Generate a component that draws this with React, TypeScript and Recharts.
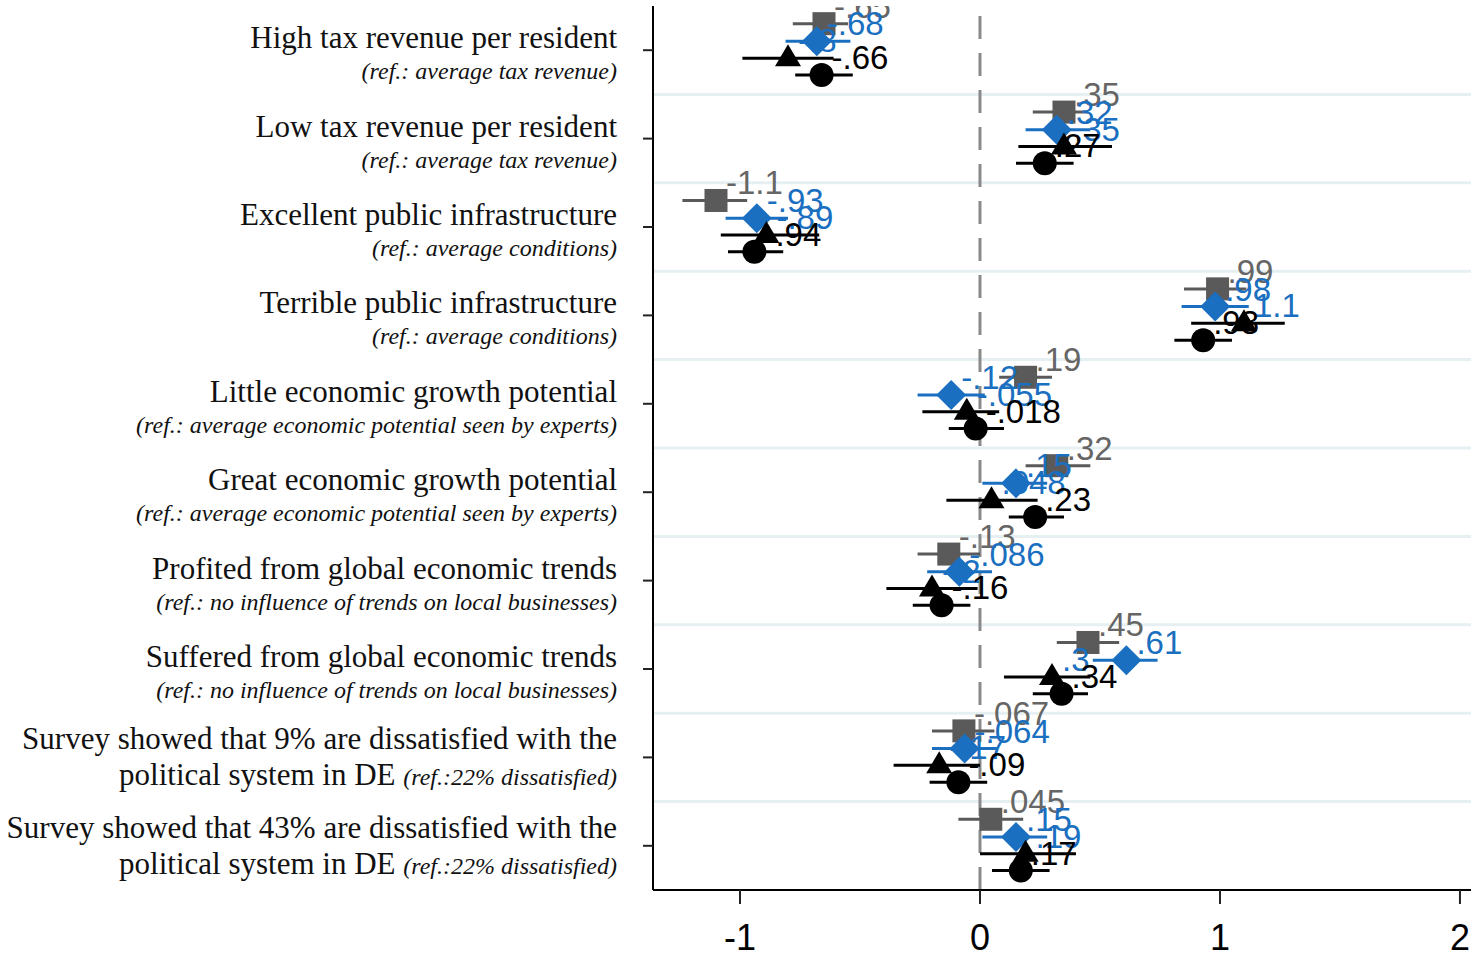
import React from "react";
import { ScatterChart, Scatter, XAxis, YAxis, ReferenceLine, ErrorBar } from "recharts";

// row labels, top to bottom
const rowTitles: string[][] = [
  ["High tax revenue per resident"],
  ["Low tax revenue per resident"],
  ["Excellent public infrastructure"],
  ["Terrible public infrastructure"],
  ["Little economic growth potential"],
  ["Great economic growth potential"],
  ["Profited from global economic trends"],
  ["Suffered from global economic trends"],
  ["Survey showed that 9% are dissatisfied with the", "political system in DE"],
  ["Survey showed that 43% are dissatisfied with the", "political system in DE"],
];
const rowRefs: string[] = [
  "(ref.: average tax revenue)",
  "(ref.: average tax revenue)",
  "(ref.: average conditions)",
  "(ref.: average conditions)",
  "(ref.: average economic potential seen by experts)",
  "(ref.: average economic potential seen by experts)",
  "(ref.: no influence of trends on local businesses)",
  "(ref.: no influence of trends on local businesses)",
  "(ref.:22% dissatisfied)",
  "(ref.:22% dissatisfied)",
];

const xTicks = [-1, 0, 1, 2];

// estimates with 95% intervals, one set per model
const squareCoef = [-0.65, 0.35, -1.1, 0.99, 0.19, 0.32, -0.13, 0.45, -0.067, 0.045];
const squareLo = [-0.78, 0.22, -1.24, 0.85, 0.08, 0.19, -0.26, 0.32, -0.2, -0.09];
const squareHi = [-0.55, 0.45, -0.97, 1.11, 0.3, 0.46, 0.0, 0.58, 0.06, 0.18];

const diamondCoef = [-0.68, 0.32, -0.93, 0.98, -0.12, 0.15, -0.086, 0.61, -0.064, 0.15];
const diamondLo = [-0.81, 0.19, -1.06, 0.84, -0.26, 0.01, -0.22, 0.47, -0.2, 0.01];
const diamondHi = [-0.54, 0.46, -0.8, 1.12, 0.02, 0.28, 0.05, 0.74, 0.07, 0.28];

const triangleCoef = [-0.8, 0.35, -0.89, 1.1, -0.055, 0.048, -0.2, 0.3, -0.17, 0.19];
const triangleLo = [-0.99, 0.16, -1.08, 0.88, -0.24, -0.14, -0.39, 0.1, -0.36, 0.0];
const triangleHi = [-0.61, 0.55, -0.67, 1.27, 0.08, 0.24, -0.01, 0.46, 0.0, 0.4];

const circleCoef = [-0.66, 0.27, -0.94, 0.93, -0.018, 0.23, -0.16, 0.34, -0.09, 0.17];
const circleLo = [-0.77, 0.15, -1.05, 0.81, -0.13, 0.12, -0.28, 0.22, -0.21, 0.05];
const circleHi = [-0.53, 0.39, -0.82, 1.05, 0.1, 0.35, -0.04, 0.45, 0.03, 0.29];

const GREY = "#5a5a5a";
const BLUE = "#1a6fc0";
const BLACK = "#000";
const SANS = "'Liberation Sans', Arial, sans-serif";
const SERIF = "'Liberation Serif', 'Times New Roman', serif";

// Stata-like %9.2g: two significant digits, no leading zero
const fmt = (v: number) => String(Number(v.toPrecision(2))).replace(/^(-?)0\./, "$1.");

const buildPoints = (coef: number[], lo: number[], hi: number[], dodge: number) =>
  coef.map((x, i) => ({ x, y: i + dodge, err: [x - lo[i], hi[i] - x] }));

const squarePts = buildPoints(squareCoef, squareLo, squareHi, -0.3);
const diamondPts = buildPoints(diamondCoef, diamondLo, diamondHi, -0.1);
const trianglePts = buildPoints(triangleCoef, triangleLo, triangleHi, 0.09);
const circlePts = buildPoints(circleCoef, circleLo, circleHi, 0.28);

const rowEdges = rowTitles.slice(1).map((_, i) => i + 0.5);

type Kind = "square" | "diamond" | "triangle" | "circle";

const makeShape = (kind: Kind, fill: string, labelColor: string) => (props: any) => {
  const { cx, cy, payload } = props;
  let mark: React.ReactNode;
  if (kind === "square") mark = <rect x={cx - 11.5} y={cy - 11.5} width={23} height={23} fill={fill} />;
  else if (kind === "diamond")
    mark = <polygon points={`${cx},${cy - 15} ${cx + 15},${cy} ${cx},${cy + 15} ${cx - 15},${cy}`} fill={fill} />;
  else if (kind === "triangle")
    mark = <polygon points={`${cx},${cy - 14} ${cx + 13},${cy + 8} ${cx - 13},${cy + 8}`} fill={fill} />;
  else mark = <circle cx={cx} cy={cy} r={12} fill={fill} />;
  return (
    <g>
      {mark}
      <text x={cx + 10} y={cy - 6} fill={labelColor} fontSize={33} fontFamily={SANS}>
        {fmt(payload.x)}
      </text>
    </g>
  );
};

const RowTick = (props: any) => {
  const { x, y, payload } = props;
  const title = rowTitles[payload.value];
  const ref = rowRefs[payload.value];
  if (!title) return null;
  if (title.length === 1) {
    return (
      <g fill="#111" fontFamily={SERIF}>
        <text x={x} y={y - 2} textAnchor="end" fontSize={31}>
          {title[0]}
        </text>
        <text x={x} y={y + 29} textAnchor="end" fontSize={24} fontStyle="italic">
          {ref}
        </text>
      </g>
    );
  }
  return (
    <g fill="#111" fontFamily={SERIF}>
      <text x={x} y={y - 8} textAnchor="end" fontSize={31}>
        {title[0]}
      </text>
      <text x={x} y={y + 28} textAnchor="end" fontSize={31}>
        {title[1]} <tspan fontSize={24} fontStyle="italic">{ref}</tspan>
      </text>
    </g>
  );
};

export default function App() {
  return (
    <div style={{ position: "absolute", left: 0, top: 0, background: "#fff" }}>
      <ScatterChart width={1471} height={961} margin={{ top: 6, right: 0, bottom: 0, left: 0 }}>
        <XAxis
          type="number"
          dataKey="x"
          domain={[-1.3625, 2.046]}
          allowDataOverflow
          ticks={xTicks}
          height={71}
          tickSize={14}
          tickMargin={20}
          axisLine={{ stroke: BLACK, strokeWidth: 2 }}
          tickLine={{ stroke: "#222", strokeWidth: 2 }}
          tick={{ fill: BLACK, fontSize: 36, fontFamily: SANS }}
        />
        <YAxis
          type="number"
          dataKey="y"
          domain={[-0.5, 9.5]}
          allowDataOverflow
          reversed
          ticks={rowTitles.map((_, i) => i)}
          interval={0}
          width={653}
          tickSize={10}
          tickMargin={26}
          axisLine={{ stroke: BLACK, strokeWidth: 2 }}
          tickLine={{ stroke: "#222", strokeWidth: 2 }}
          tick={<RowTick />}
        />
        {rowEdges.map((v) => (
          <ReferenceLine key={v} y={v} stroke="#e6eff1" strokeWidth={3} />
        ))}
        <ReferenceLine x={0} stroke="#8a8a8a" strokeWidth={3} strokeDasharray="23 14" />
        <Scatter data={squarePts} shape={makeShape("square", GREY, "#666")} isAnimationActive={false}>
          <ErrorBar dataKey="err" direction="x" width={0} stroke={GREY} strokeWidth={3} />
        </Scatter>
        <Scatter data={diamondPts} shape={makeShape("diamond", BLUE, BLUE)} isAnimationActive={false}>
          <ErrorBar dataKey="err" direction="x" width={0} stroke={BLUE} strokeWidth={3} />
        </Scatter>
        <Scatter data={trianglePts} shape={makeShape("triangle", BLACK, BLUE)} isAnimationActive={false}>
          <ErrorBar dataKey="err" direction="x" width={0} stroke={BLACK} strokeWidth={3} />
        </Scatter>
        <Scatter data={circlePts} shape={makeShape("circle", BLACK, BLACK)} isAnimationActive={false}>
          <ErrorBar dataKey="err" direction="x" width={0} stroke={BLACK} strokeWidth={3} />
        </Scatter>
      </ScatterChart>
    </div>
  );
}
